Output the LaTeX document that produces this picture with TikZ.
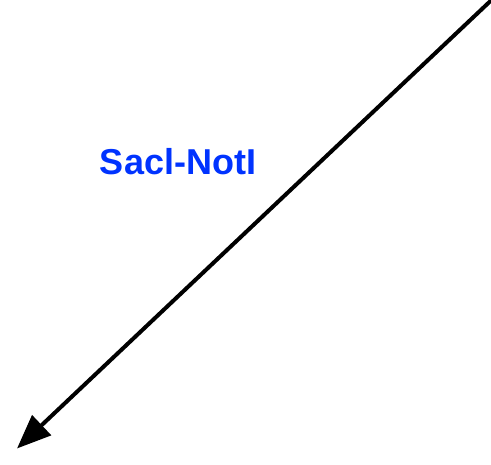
\documentclass[tikz,border=0pt]{standalone}
\usepackage{fontspec}
\setmainfont{Liberation Sans}
\usetikzlibrary{arrows.meta}
\definecolor{lblblue}{RGB}{0,51,255}
\begin{document}
\begin{tikzpicture}[x=1pt,y=1pt,
  conn/.style={line width=4pt,-{Triangle[length=34pt,width=27pt]}},
  lbl/.style={text=lblblue,font=\bfseries\fontsize{36}{40}\selectfont,inner sep=0pt}]
\useasboundingbox (0,0) rectangle (491,465);
\coordinate (s) at (491,464.5);
\coordinate (e) at (17,16.5);
\draw[conn] (s) -- (e);
\node[lbl] (t) at (178,303) {Sacl-NotI};
\end{tikzpicture}
\end{document}
